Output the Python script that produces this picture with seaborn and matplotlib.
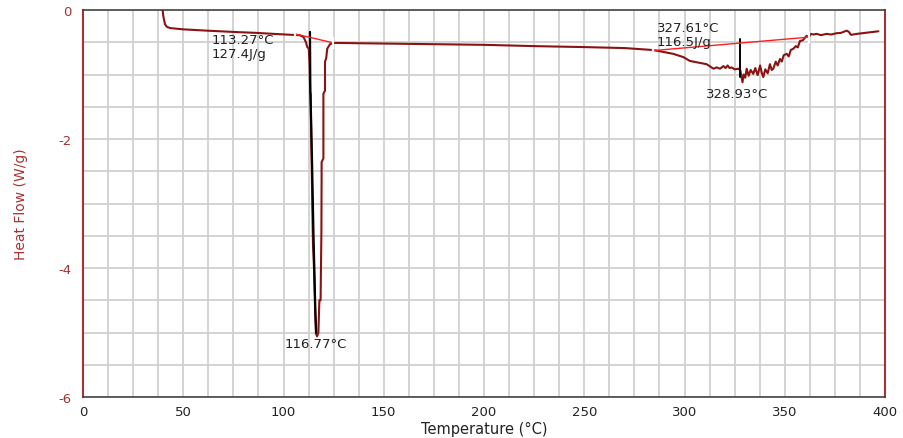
import numpy as np
import pandas as pd
import matplotlib
matplotlib.use("Agg")
import matplotlib.pyplot as plt
from matplotlib.ticker import MultipleLocator
import seaborn as sns

# ---- data ----
temp = [39.6, 39.9, 40.2, 40.9, 41.8, 43.4, 50, 61.7, 75, 86.6, 95, 104, 108,
        110, 111.2, 111.8, 112.6, 113.0, 113.3, 113.6, 114.0, 114.5, 114.7,
        115.2, 115.8, 116.2, 116.77, 117.4, 117.9, 118.5, 118.8, 118.9, 119.0,
        119.0, 119.9, 119.9, 120.7, 120.7, 121.3, 121.8, 123.2, 125, 150, 175,
        200, 225, 250, 270, 284, 287.8, 294.4, 299.4, 302.7, 306, 311, 313,
        314.4, 316, 317.7, 319.4, 320.5, 321.5, 322.5, 323.5, 325, 326.8,
        327.8, 328.93, 329.5, 330.3, 331, 332, 333, 334.3, 335.3, 336.5,
        337.7, 338.5, 339.3, 340.3, 341.5, 342.6, 343.5, 344.3, 345.5, 346.5,
        347.6, 348.5, 349.5, 351, 352, 353, 354.3, 355.5, 356.5, 357.6, 359,
        360.9, 362, 363, 364.2, 366, 368, 370.9, 373, 375.9, 378, 380.9, 382,
        383, 386, 390, 396.7]
heat_flow = [0.05, -0.06, -0.12, -0.22, -0.26, -0.28, -0.30, -0.32, -0.34,
             -0.355, -0.37, -0.385, -0.39, -0.42, -0.50, -0.57, -0.60, -0.86,
             -1.27, -1.30, -2.28, -3.30, -3.63, -4.00, -4.68, -5.02, -5.06,
             -5.00, -4.50, -4.50, -3.70, -3.45, -2.62, -2.36, -2.30, -1.30,
             -1.25, -0.80, -0.75, -0.60, -0.53, -0.51, -0.52, -0.53, -0.54,
             -0.56, -0.575, -0.59, -0.62, -0.64, -0.68, -0.73, -0.79, -0.81,
             -0.84, -0.88, -0.91, -0.89, -0.91, -0.87, -0.90, -0.86, -0.90,
             -0.89, -0.92, -0.91, -0.93, -1.12, -1.00, -1.05, -0.91, -1.02,
             -0.93, -0.99, -0.90, -1.01, -0.86, -0.97, -1.04, -0.92, -0.98,
             -0.84, -0.93, -0.91, -0.80, -0.86, -0.76, -0.80, -0.70, -0.68,
             -0.72, -0.62, -0.60, -0.56, -0.58, -0.48, -0.47, -0.40, -0.42,
             -0.37, -0.38, -0.37, -0.39, -0.37, -0.38, -0.36, -0.355, -0.32,
             -0.34, -0.385, -0.37, -0.355, -0.33]

# black cursor traces
onset1_t = [113.2, 113.4, 114.2, 114.9, 115.9, 116.3]
onset1_v = [-0.34, -1.30, -2.30, -3.40, -4.68, -5.00]
onset2_t = [327.7, 327.7]
onset2_v = [-0.45, -1.04]

# integration baselines
base1_t = [105.7, 124.9]
base1_v = [-0.37, -0.51]
base2_t = [284.1, 362.3]
base2_v = [-0.63, -0.42]

# annotations (text, x, y, alignment)
ann_text = ["113.27°C", "127.4J/g", "116.77°C", "327.61°C", "116.5J/g", "328.93°C"]
ann_x = [64.3, 64.3, 116.3, 286.3, 286.3, 310.5]
ann_y = [-0.45, -0.67, -5.17, -0.27, -0.49, -1.29]
ann_ha = ["left", "left", "center", "left", "left", "left"]

x_ticks = [0, 50, 100, 150, 200, 250, 300, 350, 400]
y_ticks = [0, -2, -4, -6]

# ---- plot ----
sns.set_style("white")
plt.rcParams['font.family'] = ['DejaVu Sans']

fig = plt.figure(figsize=(9.04, 4.39), dpi=100)
ax = fig.add_axes([83 / 904, 41 / 439, 802 / 904, 387 / 439])

curve_color = "#8B1212"
axis_red = "#A83232"
bright_red = "#FF1E1E"

df = pd.DataFrame({"T": temp, "HF": heat_flow})
sns.lineplot(data=df, x="T", y="HF", sort=False, estimator=None, ax=ax,
             color=curve_color, linewidth=1.5, zorder=3)
sns.lineplot(x=onset1_t, y=onset1_v, sort=False, estimator=None, ax=ax,
             color="black", linewidth=1.6, zorder=4)
sns.lineplot(x=onset2_t, y=onset2_v, sort=False, estimator=None, ax=ax,
             color="black", linewidth=1.4, zorder=4)
for bt, bv in [(base1_t, base1_v), (base2_t, base2_v)]:
    sns.lineplot(x=bt, y=bv, sort=False, estimator=None, ax=ax,
                 color=bright_red, linewidth=1.0, marker="|", markersize=9,
                 markeredgewidth=1.6, zorder=5)

for t, x, y, ha in zip(ann_text, ann_x, ann_y, ann_ha):
    ax.text(x, y, t, fontsize=9.5, color="#222222", ha=ha, va="center",
            zorder=6)

ax.set_xlim(0, 400)
ax.set_ylim(-6, 0)
ax.set_xticks(x_ticks)
ax.set_yticks(y_ticks)
ax.set_yticklabels([str(v) for v in y_ticks])
ax.xaxis.set_minor_locator(MultipleLocator(12.5))
ax.yaxis.set_minor_locator(MultipleLocator(0.5))
ax.grid(True, which="both", color="#d0d0d0", linewidth=1.3)
ax.set_axisbelow(True)

ax.tick_params(axis="x", which="major", direction="out", length=4, width=1,
               color="#333333", labelsize=9.5, labelcolor="#222222", pad=2)
ax.tick_params(axis="x", which="minor", direction="out", length=3, width=1,
               color="#333333")
ax.tick_params(axis="y", which="major", direction="out", length=6, width=1,
               color=axis_red, labelsize=9.5, labelcolor=axis_red, pad=2)
ax.tick_params(axis="y", which="minor", direction="out", length=2, width=1,
               color="#aaaaaa")

for side in ["left", "right"]:
    ax.spines[side].set_color(axis_red)
    ax.spines[side].set_linewidth(1.5)
for side in ["top", "bottom"]:
    ax.spines[side].set_color("#444444")
    ax.spines[side].set_linewidth(1.2)

ax.set_xlabel("Temperature (°C)", fontsize=10.5, color="#222222")
ax.set_ylabel("Heat Flow (W/g)", fontsize=10, color=axis_red)
ax.xaxis.set_label_coords(0.5, -0.062)
ax.yaxis.set_label_coords(-0.068, 0.5)

fig.savefig("out.png", dpi=100)
